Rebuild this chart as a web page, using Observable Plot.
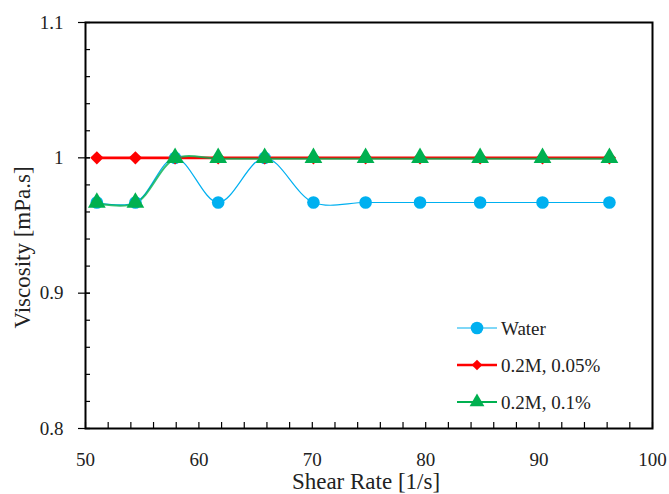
<!DOCTYPE html>
<html><head><meta charset="utf-8">
<script src="https://cdn.jsdelivr.net/npm/d3@7"></script>
<script src="https://cdn.jsdelivr.net/npm/@observablehq/plot@0.6"></script>
<style>
body{margin:0;background:#fff;}
#wrap{position:relative;width:669px;height:494px;font-family:'Liberation Serif','DejaVu Serif',serif;}
#wrap svg, #wrap text{font-family:'Liberation Serif','DejaVu Serif',serif !important;}
#legend{position:absolute;left:0;top:0;pointer-events:none;}
</style>
</head><body>
<div id="wrap"></div>
<script>
// Data
const shearRate = [51.0, 54.4, 57.9, 61.7, 65.8, 70.1, 74.7, 79.5, 84.8, 90.3, 96.2];
const water     = [0.967, 0.967, 1.0, 0.967, 1.0, 0.967, 0.967, 0.967, 0.967, 0.967, 0.967];
const s005      = [1.0, 1.0, 1.0, 1.0, 1.0, 1.0, 1.0, 1.0, 1.0, 1.0, 1.0];
const s01       = [0.967, 0.967, 1.0, 1.0, 1.0, 1.0, 1.0, 1.0, 1.0, 1.0, 1.0];
const seriesNames = ["Water", "0.2M, 0.05%", "0.2M, 0.1%"];
const seriesColors = ["#00B0F0", "#FF0000", "#00B050"];

const xMajor = [50, 60, 70, 80, 90, 100];
const xMinor = [50, 52, 54, 56, 58, 60, 62, 64, 66, 68, 70, 72, 74, 76, 78, 80, 82, 84, 86, 88, 90, 92, 94, 96, 98, 100];
const yMajor = [0.8, 0.9, 1.0, 1.1];
const yMinor = [0.8, 0.82, 0.84, 0.86, 0.88, 0.9, 0.92, 0.94, 0.96, 0.98, 1.0, 1.02, 1.04, 1.06, 1.08, 1.1];

const rows = (ys) => shearRate.map((x, i) => ({x, y: ys[i]}));
const dWater = rows(water), d005 = rows(s005), d01 = rows(s01);

const W = 669, H = 494, mL = 85, mR = 17, mT = 22, mB = 66;
const innerW = W - mL - mR, innerH = H - mT - mB;
const font = "'Liberation Serif','DejaVu Serif',serif";

const chart = Plot.plot({
  width: W, height: H,
  marginLeft: mL, marginRight: mR, marginTop: mT, marginBottom: mB,
  style: {fontFamily: font, background: "#fff", color: "#222"},
  x: {domain: [50, 100]},
  y: {domain: [0.8, 1.1]},
  marks: [
    Plot.ruleY(yMinor, {y: d => d, stroke: "#000", strokeWidth: 1.2, insetRight: innerW - 5}),
    Plot.ruleY(yMajor, {y: d => d, stroke: "#000", strokeWidth: 1.2, insetLeft: -7, insetRight: innerW - 5}),
    Plot.ruleX(xMinor, {x: d => d, stroke: "#000", strokeWidth: 1.2, insetTop: innerH - 6}),
    Plot.axisY(yMajor, {anchor: "left", tickSize: 0, tickPadding: 22, tickFormat: d => String(d), fontSize: 19, label: null}),
    Plot.axisX(xMajor, {anchor: "bottom", tickSize: 0, tickPadding: 24, tickFormat: d => String(d), fontSize: 19, label: null}),
    Plot.line(dWater, {x: "x", y: "y", curve: "catmull-rom", stroke: seriesColors[0], strokeWidth: 1.2}),
    Plot.line(d005, {x: "x", y: "y", curve: "catmull-rom", stroke: seriesColors[1], strokeWidth: 2.6}),
    Plot.line(d01, {x: "x", y: "y", curve: "catmull-rom", stroke: seriesColors[2], strokeWidth: 2, strokeOpacity: 0.8, dy: 0.8}),
    Plot.dot(dWater, {x: "x", y: "y", r: 6.3, fill: seriesColors[0], stroke: null}),
    Plot.dot(d005, {x: "x", y: "y", r: 6, symbol: "diamond2", fill: seriesColors[1], stroke: null}),
    Plot.dot(d01, {x: "x", y: "y", r: 6.6, symbol: "triangle", fill: seriesColors[2], stroke: null}),
    Plot.frame({stroke: "#000", strokeWidth: 2}),
    Plot.text(["Shear Rate [1/s]"], {frameAnchor: "bottom", textAnchor: "middle", lineAnchor: "middle", dx: -3, dy: 53, fontSize: 23, fill: "#222"}),
    Plot.text(["Viscosity [mPa.s]"], {frameAnchor: "left", textAnchor: "middle", lineAnchor: "middle", rotate: -90, dx: -63, dy: 22, fontSize: 23, fill: "#222"})
  ]
});
const wrap = document.getElementById("wrap");
wrap.appendChild(chart);

const leg = d3.select(wrap).append("svg").attr("id", "legend").attr("width", W).attr("height", H);
const symbols = [d3.symbolCircle, d3.symbolDiamond2, d3.symbolTriangle];
const symSizes = [125, 72, 95];
const legY = [328, 365, 402];
const lineW = [1.2, 2.6, 2];
seriesNames.forEach((name, i) => {
  const g = leg.append("g").attr("transform", `translate(0,${legY[i]})`);
  g.append("line").attr("x1", 457).attr("x2", 497).attr("y1", 0).attr("y2", 0)
    .attr("stroke", seriesColors[i]).attr("stroke-width", lineW[i]);
  g.append("path").attr("transform", "translate(477,0)")
    .attr("d", d3.symbol(symbols[i], symSizes[i])()).attr("fill", seriesColors[i]);
  g.append("text").attr("x", 501).attr("y", 0).attr("dy", "0.35em")
    .attr("font-size", 19).attr("fill", "#222").text(name);
});
</script>
</body></html>
